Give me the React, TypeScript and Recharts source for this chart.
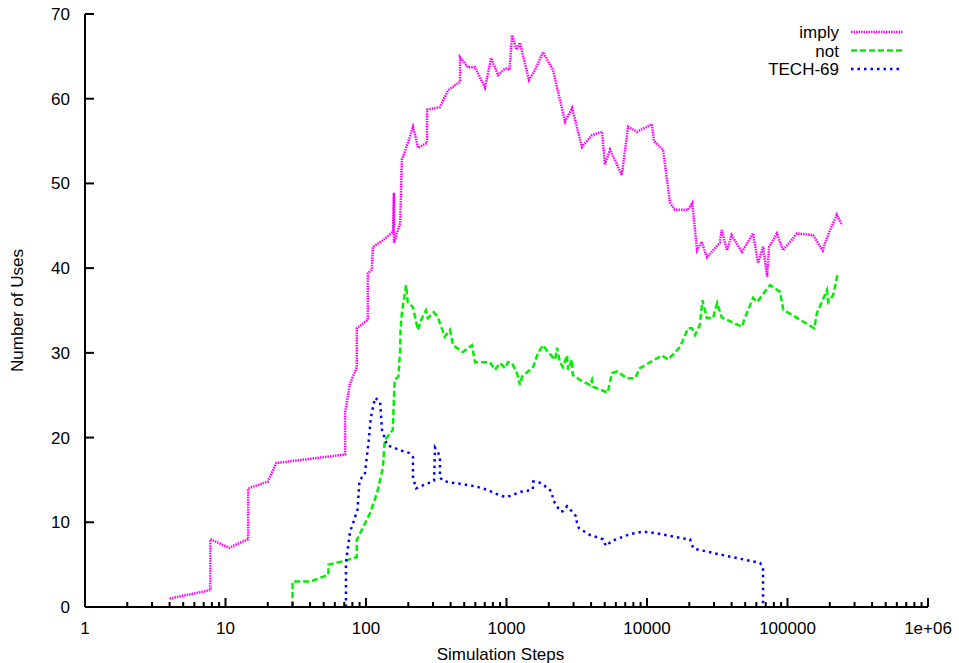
import { LineChart, Line, XAxis, YAxis, Legend } from "recharts"

// imply series (x = simulation steps, y = number of uses)
const implySteps = [
  4, 7.8, 7.8, 10.6, 14.5, 14.5, 20, 23, 71, 71, 77, 86, 86, 103, 103, 110, 112, 132, 156, 158, 158,
  175, 180, 199, 216, 235, 272, 272, 336, 384, 467, 467, 532, 597, 703, 777, 870, 980, 1050, 1096,
  1180, 1248, 1445, 1596, 1820, 2140, 2400, 2610, 2930, 3445, 4060, 4790, 5020, 5450, 6620, 7330,
  8500, 10850, 11200, 13000, 14600, 15800, 19600, 21000, 22700, 24500, 26700, 33000, 34000, 37100,
  40000, 47400, 56900, 61700, 67000, 71600, 74000, 84100, 92900, 117000, 152000, 178000, 194000,
  224000, 244000,
]
const implyUses = [
  1, 2, 8, 7, 8, 14, 14.8, 17, 18, 23, 26.4, 28.3, 32.9, 33.9, 39.4, 39.8, 42.5, 43.3, 44.3, 48.9, 43,
  45.3, 52.8, 54.8, 56.7, 54.2, 54.8, 58.7, 59, 61, 62, 64.9, 63.7, 63.7, 61.3, 64.8, 62.8, 63.6, 63.4,
  67.5, 65.8, 66.6, 62.2, 63.4, 65.5, 63.4, 59.9, 57.3, 58.9, 54.3, 55.7, 56.1, 52.2, 54, 51, 56.7,
  56.1, 57, 55, 54, 47.7, 46.9, 46.9, 47.7, 42.1, 43.1, 41.3, 43, 44.5, 42.1, 43.9, 41.9, 44.1, 40.6,
  42.5, 39, 42.5, 44.1, 42.1, 44.1, 43.9, 42.1, 43.9, 46.3, 45.1,
]

// not series
const notSteps = [
  30, 30, 40, 54, 54, 69, 86, 86, 107, 120, 132, 136, 155, 160, 170, 175, 176, 180, 193, 198, 216,
  234, 250, 267, 275, 303, 325, 353, 363, 396, 416, 490, 568, 597, 760, 829, 899, 975, 1025, 1094,
  1188, 1250, 1289, 1545, 1676, 1820, 1975, 2215, 2290, 2400, 2524, 2698, 2740, 2925, 2960, 3335,
  3930, 4060, 4130, 5250, 5630, 6110, 7210, 8220, 8900, 12800, 14100, 17200, 19600, 20900, 21970,
  23800, 24800, 26700, 29500, 31600, 34000, 47400, 49900, 56900, 60700, 75100, 88500, 93300,
  155000, 162000, 191000, 195000, 211000, 229000,
]
const notUses = [
  0, 3, 3, 3.8, 5, 5.4, 5.9, 7.9, 11.1, 13.5, 16.5, 19.7, 20.9, 26.8, 27.2, 30.3, 32.7, 34.7, 38, 36,
  35.4, 32.7, 34.1, 35, 34.1, 34.8, 34.2, 32.5, 31.9, 32.7, 30.9, 30.1, 30.9, 28.9, 28.9, 28, 28.8,
  28.2, 28.9, 28.8, 27.6, 26.2, 27.2, 28.3, 30, 30.9, 30.1, 29.2, 30.6, 28.9, 28.3, 29.7, 28, 29.2,
  27.4, 26.8, 26.2, 26.8, 26, 25.3, 27.6, 27.8, 27, 27, 28.2, 29.7, 29.2, 30.7, 32.9, 32.9, 32.1,
  33.3, 36.2, 34.1, 34.1, 35.9, 34.2, 33.1, 34.2, 36.5, 36, 38, 37.2, 35.1, 32.9, 34.7, 37.4, 36,
  36.8, 39.5,
]

// TECH-69 series
const techSteps = [
  72, 72, 77, 81, 87, 90, 98, 105, 108, 116, 126, 130, 141, 183, 202, 216, 216, 227, 250, 276, 305,
  310, 325, 336, 336, 353, 396, 490, 617, 738, 830, 930, 1009, 1130, 1268, 1399, 1540, 1550, 1680,
  1820, 2006, 2108, 2150, 2290, 2400, 2520, 2700, 2920, 3126, 3170, 3280, 3930, 4860, 5106, 5620,
  7570, 9340, 11800, 18000, 20200, 21400, 33000, 45900, 63700, 67000, 67000,
]
const techUses = [
  0, 5.2, 8.9, 9.9, 11.5, 15, 15.6, 19.9, 22.3, 24.7, 24.2, 20.9, 19.1, 18.4, 18.2, 17.7, 15.3, 14,
  14.3, 14.6, 14.9, 18.8, 18.3, 17.7, 15.3, 14.9, 14.7, 14.5, 14.2, 13.8, 13.4, 13.1, 13, 13.3, 13.6,
  13.7, 13.9, 14.8, 14.8, 14.4, 14, 13.4, 12.6, 11.9, 11.3, 11.3, 11.9, 11.3, 10.7, 10, 9.3, 8.5, 8,
  7.2, 7.8, 8.6, 8.9, 8.7, 8.1, 8, 6.9, 6.2, 5.7, 5.2, 4.7, 0,
]

const xDecades = [1, 10, 100, 1000, 10000, 100000, 1000000]
const xTickLabels = ["1", "10", "100", "1000", "10000", "100000", "1e+06"]
const yTicks = [0, 10, 20, 30, 40, 50, 60, 70]

const xTicks: number[] = []
xDecades.forEach((d, i) => {
  xTicks.push(d)
  if (i < xDecades.length - 1) for (let k = 2; k <= 9; k++) xTicks.push(d * k)
})

const toRows = (steps: number[], uses: number[]) =>
  steps.map((s, i) => ({ steps: s, uses: uses[i] }))

const SERIES = [
  { name: "imply", data: toRows(implySteps, implyUses), color: "#ff00ff", dash: "1.5 1" },
  { name: "not", data: toRows(notSteps, notUses), color: "#00ee00", dash: "6 3" },
  { name: "TECH-69", data: toRows(techSteps, techUses), color: "#0000ff", dash: "2.5 4" },
]

const FONT = "'Liberation Sans', Arial, sans-serif"
const W = 959
const H = 663

function XTick(props: any) {
  const { x, y, payload } = props
  const idx = xDecades.indexOf(payload.value)
  const major = idx >= 0
  return (
    <g>
      <line x1={x} x2={x} y1={y} y2={y - (major ? 9 : 5)} stroke="#000" strokeWidth={2} />
      {major && (
        <text x={x} y={y + 27} textAnchor="middle" fontSize={17} fontFamily={FONT} fill="#000">
          {xTickLabels[idx]}
        </text>
      )}
    </g>
  )
}

function YTick(props: any) {
  const { x, y, payload } = props
  return (
    <g>
      <line x1={x} x2={x + 9} y1={y} y2={y} stroke="#000" strokeWidth={2} />
      <text x={x - 15} y={y + 6} textAnchor="end" fontSize={17} fontFamily={FONT} fill="#000">
        {payload.value}
      </text>
    </g>
  )
}

function LegendBox() {
  return (
    <svg width={220} height={66}>
      {SERIES.map((s, i) => (
        <g key={s.name}>
          <text
            x={139}
            y={20 + i * 18.5}
            textAnchor="end"
            fontSize={17}
            fontFamily={FONT}
            fill="#000"
          >
            {s.name}
          </text>
          <line
            x1={151}
            x2={203}
            y1={14 + i * 18.5}
            y2={14 + i * 18.5}
            stroke={s.color}
            strokeWidth={2.5}
            strokeDasharray={s.dash}
          />
        </g>
      ))}
    </svg>
  )
}

export default function App() {
  return (
    <div style={{ position: "fixed", left: 0, top: 0, width: W, height: H, background: "#fff" }}>
      <LineChart width={W} height={H} margin={{ top: 14, right: 31, bottom: 0, left: 0 }}>
        <XAxis
          dataKey="steps"
          type="number"
          scale="log"
          domain={[1, 1000000]}
          allowDataOverflow
          ticks={xTicks}
          interval={0}
          height={56}
          tickSize={0}
          tickMargin={0}
          tickLine={false}
          tick={<XTick />}
          axisLine={{ stroke: "#000", strokeWidth: 2 }}
          label={{
            value: "Simulation Steps",
            position: "insideBottom",
            offset: 3,
            dx: -6,
            style: { fontSize: 17, fontFamily: FONT, fill: "#000" },
          }}
        />
        <YAxis
          type="number"
          domain={[0, 70]}
          ticks={yTicks}
          interval={0}
          width={85}
          tickSize={0}
          tickMargin={0}
          tickLine={false}
          tick={<YTick />}
          axisLine={{ stroke: "#000", strokeWidth: 2 }}
          label={{
            value: "Number of Uses",
            angle: -90,
            position: "insideLeft",
            offset: 17,
            style: { fontSize: 17, fontFamily: FONT, fill: "#000", textAnchor: "middle" },
          }}
        />
        <Legend
          layout="vertical"
          align="center"
          verticalAlign="middle"
          wrapperStyle={{ left: 700, top: 18, width: 220, height: 66 }}
          content={() => <LegendBox />}
        />
        {SERIES.map((s) => (
          <Line
            key={s.name}
            data={s.data}
            dataKey="uses"
            name={s.name}
            type="linear"
            stroke={s.color}
            strokeWidth={2.5}
            strokeDasharray={s.dash}
            dot={false}
            activeDot={false}
            isAnimationActive={false}
          />
        ))}
      </LineChart>
    </div>
  )
}
